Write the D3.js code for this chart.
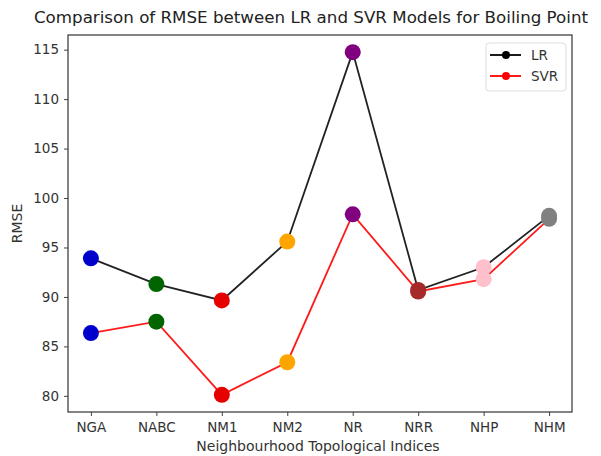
<!DOCTYPE html>
<html>
<head>
<meta charset="utf-8">
<script src="https://cdn.jsdelivr.net/npm/d3@7"></script>
<style>
  body { margin: 0; background: #fff; }
  text { font-family: "DejaVu Sans", sans-serif; }
</style>
</head>
<body>
<svg id="chart" width="601" height="456"></svg>
<script>
const categories = ["NGA", "NABC", "NM1", "NM2", "NR", "NRR", "NHP", "NHM"];
const lrValues  = [93.9, 91.3, 89.65, 95.6, 114.75, 90.7, 93.0, 98.2];
const svrValues = [86.35, 87.5, 80.1, 83.4, 98.35, 90.55, 91.8, 97.9];
const pointColors = ["#0000cc", "#006400", "#e60000", "#ffa500", "#800080", "#a52a2a", "#ffc0cb", "#808080"];
const yTicks = [80, 85, 90, 95, 100, 105, 110, 115];
const seriesNames = ["LR", "SVR"];
const seriesColors = ["#222222", "#ff1a1a"];

(function () {
const svg = d3.select("#chart");
const mLeft = 68, mRight = 572, mTop = 35, mBottom = 412;

const x = d3.scalePoint().domain(categories).range([mLeft, mRight]).padding(0.35);
const allVals = lrValues.concat(svrValues);
const ymin = d3.min(allVals), ymax = d3.max(allVals);
const pad = (ymax - ymin) * 0.05;
const y = d3.scaleLinear().domain([ymin - pad, ymax + pad]).range([mBottom, mTop]);

const textColor = "#333";

// axes
const xAxis = svg.append("g").attr("transform", `translate(0,${mBottom})`)
  .call(d3.axisBottom(x).tickSize(4).tickPadding(6));
const yAxis = svg.append("g").attr("transform", `translate(${mLeft},0)`)
  .call(d3.axisLeft(y).tickValues(yTicks).tickSize(4).tickPadding(5));
[xAxis, yAxis].forEach(g => {
  g.select(".domain").remove();
  g.selectAll(".tick line").attr("stroke", "#444").attr("stroke-width", 1);
  g.selectAll(".tick text").attr("fill", textColor).style("font-size", "13.5px").style("font-family", "DejaVu Sans, sans-serif");
});

// frame
svg.append("rect").attr("x", mLeft).attr("y", mTop).attr("width", mRight - mLeft).attr("height", mBottom - mTop)
  .attr("fill", "none").attr("stroke", "#333").attr("stroke-width", 1.2);

// lines
const line = d3.line().x((d, i) => x(categories[i])).y(d => y(d));
[lrValues, svrValues].forEach((vals, si) => {
  svg.append("path").datum(vals).attr("d", line)
    .attr("fill", "none").attr("stroke", seriesColors[si]).attr("stroke-width", 1.8);
});

// points
[lrValues, svrValues].forEach((vals) => {
  svg.append("g").selectAll("circle").data(vals).join("circle")
    .attr("cx", (d, i) => x(categories[i]))
    .attr("cy", d => y(d))
    .attr("r", 8)
    .attr("fill", (d, i) => pointColors[i]);
});

// title
svg.append("text").attr("x", 311).attr("y", 23).attr("text-anchor", "middle")
  .attr("fill", "#222").style("font-size", "16.7px")
  .text("Comparison of RMSE between LR and SVR Models for Boiling Point");

// axis labels
svg.append("text").attr("x", 318).attr("y", 451).attr("text-anchor", "middle")
  .attr("fill", textColor).style("font-size", "14px").text("Neighbourhood Topological Indices");
svg.append("text").attr("transform", `translate(22,${(mTop + mBottom) / 2}) rotate(-90)`).attr("text-anchor", "middle")
  .attr("fill", textColor).style("font-size", "14px").text("RMSE");

// legend
const lg = svg.append("g");
lg.append("rect").attr("x", 486).attr("y", 43).attr("width", 80).attr("height", 48).attr("rx", 3)
  .attr("fill", "#fff").attr("stroke", "#ddd");
seriesNames.forEach((name, i) => {
  const ly = 55 + i * 21;
  lg.append("line").attr("x1", 490).attr("x2", 521).attr("y1", ly).attr("y2", ly)
    .attr("stroke", i === 0 ? "#000" : "#ff0000").attr("stroke-width", 1.8);
  lg.append("circle").attr("cx", 506).attr("cy", ly).attr("r", 4).attr("fill", i === 0 ? "#000" : "#ff0000");
  lg.append("text").attr("x", 531).attr("y", ly + 5).attr("fill", textColor).style("font-size", "13.5px").text(name);
});
})();
</script>
</body>
</html>
